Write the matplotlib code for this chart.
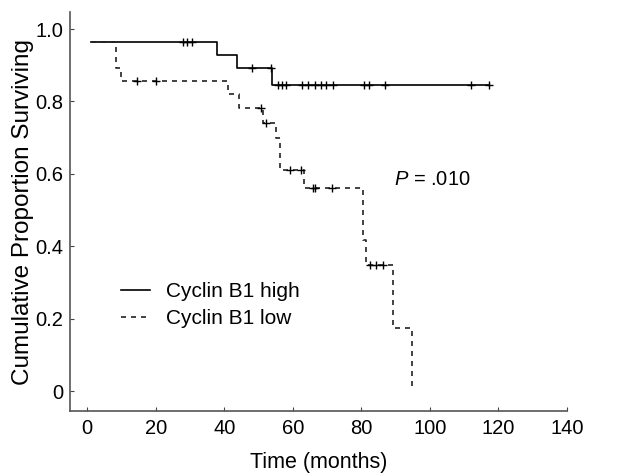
import numpy as np
import matplotlib
matplotlib.use('Agg')
import matplotlib.pyplot as plt

plt.rcParams['font.family'] = ['Liberation Sans', 'DejaVu Sans']
plt.rcParams['mathtext.fontset'] = 'custom'
plt.rcParams['mathtext.it'] = 'Liberation Sans:italic'
plt.rcParams['mathtext.rm'] = 'Liberation Sans'

# Kaplan-Meier steps (months, proportion surviving)
high_times = [1, 37.8, 43.7, 54.0, 117.3]
high_surv = [0.964, 0.929, 0.893, 0.845, 0.845]
high_censor = [27.9, 29.2, 30.6, 48.1, 53.6, 55.8, 56.9, 58.1, 62.8, 64.4,
               66.6, 68.2, 69.6, 71.7, 80.9, 82.1, 86.8, 112.1, 117.3]

low_times = [1, 8.5, 10.0, 41.0, 44.2, 51.4, 55.2, 56.4, 63.4, 80.6, 81.4, 89.2, 94.9]
low_surv = [0.964, 0.893, 0.857, 0.821, 0.782, 0.741, 0.70, 0.61, 0.56, 0.417, 0.349, 0.174, 0.0]
low_censor = [14.7, 20.1, 50.6, 52.3, 59.2, 62.3, 65.8, 66.6, 71.3, 82.4, 84.2, 86.4]

x_ticks = [0, 20, 40, 60, 80, 100, 120, 140]
y_ticks = [0, 0.2, 0.4, 0.6, 0.8, 1.0]
y_ticklabels = ['0', '0.2', '0.4', '0.6', '0.8', '1.0']


def surv_at(times, surv, t):
    # value of the step curve at time t
    idx = np.searchsorted(times, t, side='right') - 1
    return np.array(surv)[idx]


fig = plt.figure(figsize=(6.36, 4.73), dpi=100)
ax = fig.add_axes([0.110, 0.131, 0.7815, 0.8436])

ax.step(high_times, high_surv, where='post', color='black', lw=1.2,
        label='Cyclin B1 high')
ax.step(low_times, low_surv, where='post', color='#222222', lw=1.2,
        ls=(0, (3, 3)), label='Cyclin B1 low')

ax.plot(high_censor, surv_at(high_times, high_surv, high_censor), ls='none',
        marker='+', ms=6, mew=1.0, color='black')
ax.plot(low_censor, surv_at(low_times, low_surv, low_censor), ls='none',
        marker='+', ms=6, mew=1.0, color='black')

ax.text(89.4, 0.584, r'$\mathit{P}$ = .010', fontsize=14.5, va='center', ha='left')

ax.legend(loc='upper left', bbox_to_anchor=(0.065, 0.37), frameon=False,
          fontsize=15, handlelength=1.4, handletextpad=0.75, labelspacing=0.4)

ax.set_xlim(-5, 140)
ax.set_ylim(-0.055, 1.047)
ax.set_xticks(x_ticks)
ax.set_yticks(y_ticks)
ax.set_yticklabels(y_ticklabels)
ax.tick_params(direction='in', length=3, labelsize=14.5, color='#444444')
ax.tick_params(axis='x', pad=6)
ax.tick_params(axis='y', pad=5)

for s in ['top', 'right']:
    ax.spines[s].set_visible(False)
for s in ['left', 'bottom']:
    ax.spines[s].set_color('#555555')
    ax.spines[s].set_linewidth(1.2)

ax.set_xlabel('Time (months)', fontsize=15.5, labelpad=10)
ax.set_ylabel('Cumulative Proportion Surviving', fontsize=17.5, labelpad=1)

plt.savefig('out.png', dpi=100)
